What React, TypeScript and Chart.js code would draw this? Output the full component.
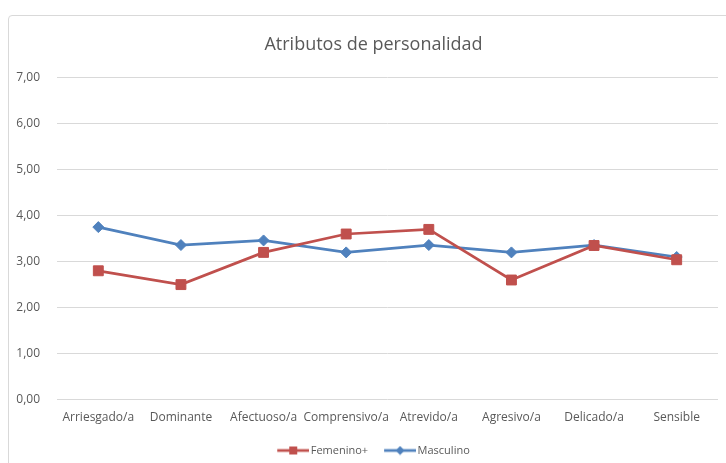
import React, { useEffect, useRef } from "react";
import { Chart, registerables } from "chart.js";

Chart.register(...registerables);

const categories = ["Arriesgado/a", "Dominante", "Afectuoso/a", "Comprensivo/a", "Atrevido/a", "Agresivo/a", "Delicado/a", "Sensible"];
const femenino = [2.8, 2.5, 3.2, 3.6, 3.7, 2.6, 3.35, 3.04];
const masculino = [3.75, 3.36, 3.46, 3.2, 3.36, 3.2, 3.36, 3.1];
const seriesNames = ["Femenino+", "Masculino"];
const titleText = "Atributos de personalidad";

const RED = "#C0504D";
const BLUE = "#4F81BD";
const TEXT = "#595959";
const FONT = "'Open Sans', sans-serif";

// Legend icon: a 46px image, line drawn in its right 32px with a marker in the middle
function legendIcon(color: string, shape: "square" | "diamond") {
  const c = document.createElement("canvas");
  c.width = 46;
  c.height = 10;
  const ctx = c.getContext("2d")!;
  ctx.strokeStyle = color;
  ctx.fillStyle = color;
  ctx.lineWidth = 2.75;
  ctx.beginPath();
  ctx.moveTo(14, 5);
  ctx.lineTo(46, 5);
  ctx.stroke();
  ctx.beginPath();
  if (shape === "square") {
    ctx.rect(26, 1, 8, 8);
  } else {
    ctx.moveTo(30, 0.5);
    ctx.lineTo(34.5, 5);
    ctx.lineTo(30, 9.5);
    ctx.lineTo(25.5, 5);
    ctx.closePath();
  }
  ctx.fill();
  return c;
}

const shiftPlugin = {
  id: "shiftBoxes",
  afterLayout(chart: any) {
    if (chart.legend) {
      chart.legend.left = 19;
      chart.legend.top += 3;
    }
    if (chart.titleBlock) chart.titleBlock.left = 29;
  },
};

export default function App() {
  const ref = useRef<HTMLCanvasElement>(null);
  useEffect(() => {
    const icons = [legendIcon(RED, "square"), legendIcon(BLUE, "diamond")];
    const chart = new Chart(ref.current!, {
      type: "line",
      data: {
        labels: categories,
        datasets: [
          {
            label: seriesNames[0],
            data: femenino,
            borderColor: RED,
            backgroundColor: RED,
            borderWidth: 2.75,
            pointStyle: "rect",
            pointRadius: 7,
            pointBorderWidth: 1,
            tension: 0,
          },
          {
            label: seriesNames[1],
            data: masculino,
            borderColor: BLUE,
            backgroundColor: BLUE,
            borderWidth: 2.75,
            pointStyle: "rectRot",
            pointRadius: 5.5,
            pointBorderWidth: 1,
            tension: 0,
          },
        ],
      },
      options: {
        responsive: false,
        animation: false,
        layout: { padding: { left: 0, right: 8, top: 0, bottom: 0 } },
        plugins: {
          title: {
            display: true,
            text: titleText,
            color: TEXT,
            font: { family: FONT, size: 18, weight: "normal" },
            padding: { top: 34, bottom: 22 },
          },
          legend: {
            position: "bottom",
            labels: {
              color: TEXT,
              font: { family: FONT, size: 11 },
              usePointStyle: true,
              pointStyleWidth: 38,
              padding: 6,
              boxHeight: 10,
              generateLabels: (ch: any) =>
                ch.data.datasets.map((ds: any, i: number) => ({
                  text: ds.label,
                  fillStyle: ds.borderColor,
                  strokeStyle: ds.borderColor,
                  lineWidth: 0,
                  pointStyle: icons[i],
                  fontColor: TEXT,
                  datasetIndex: i,
                  hidden: false,
                })),
            },
          },
          tooltip: { enabled: false },
        },
        scales: {
          x: {
            offset: true,
            grid: { display: false, drawTicks: false },
            border: { display: false },
            ticks: { color: TEXT, font: { family: FONT, size: 12 }, padding: 11, maxRotation: 0, autoSkip: false },
          },
          y: {
            min: 0,
            max: 7,
            afterFit: (s: any) => {
              s.width = 57;
            },
            grid: { color: "#d9d9d9", lineWidth: 1, drawTicks: false },
            border: { display: false },
            ticks: {
              stepSize: 1,
              color: TEXT,
              font: { family: FONT, size: 12 },
              padding: 17,
              callback: (v: any) => Number(v).toFixed(2).replace(".", ","),
            },
          },
        },
      },
      plugins: [shiftPlugin],
    });
    return () => chart.destroy();
  }, []);
  return (
    <div style={{ position: "fixed", left: 0, top: 0, width: 726, height: 463, overflow: "hidden", background: "#fff" }}>
      <div
        style={{
          position: "absolute",
          left: 8,
          top: 15,
          width: 760,
          height: 500,
          border: "1px solid #d9d9d9",
          borderRadius: 4,
        }}
      />
      <canvas ref={ref} width={726} height={463} style={{ position: "absolute", left: 0, top: 0 }} />
    </div>
  );
}
